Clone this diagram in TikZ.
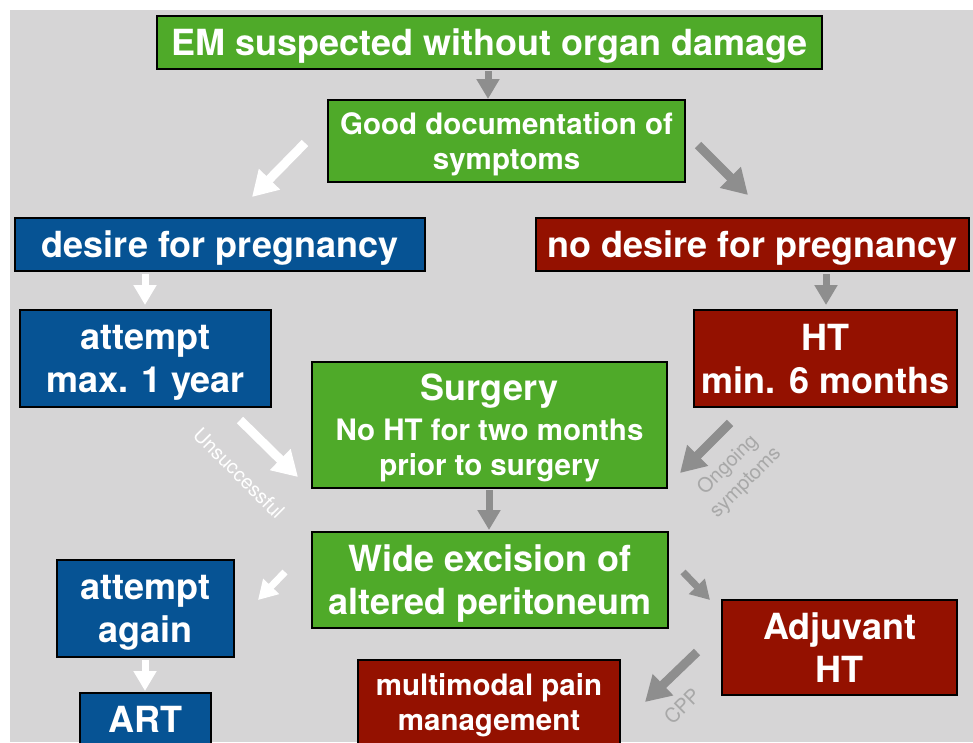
\documentclass[tikz,border=0pt]{standalone}
\usepackage{fontspec}
\setmainfont{TeX Gyre Heros}
\usepackage{xcolor}
\definecolor{emgreen}{RGB}{79,170,41}
\definecolor{emblue}{RGB}{6,83,148}
\definecolor{emred}{RGB}{148,17,0}
\definecolor{bggray}{RGB}{214,213,214}
\definecolor{arrowgray}{RGB}{142,142,142}
\definecolor{labelgray}{RGB}{168,168,168}
\usepackage{tikz}
\usetikzlibrary{arrows.meta}
\newcommand{\bigtext}{\fontsize{36}{43}\selectfont\bfseries}
\newcommand{\midtext}{\fontsize{29.5}{35}\selectfont\bfseries}
\newcommand{\smalltext}{\fontsize{20}{25}\selectfont}
\tikzset{
    common/.style={draw=black, line width=1.3pt, rectangle, inner sep=0pt, text depth=0pt, align=center, text=white, font=\bigtext},
    greenbox/.style={common, fill=emgreen},
    bluebox/.style={common, fill=emblue},
    redbox/.style={common, fill=emred},
    diagarrow/.style={line width=9pt, -{Triangle[width=28pt, length=25pt]}},
    downarrow/.style={line width=7pt, -{Triangle[width=22pt, length=20pt]}},
    shortarrow/.style={line width=7pt, -{Triangle[width=21pt, length=19pt]}},
    whiteway/.style={draw=white},
    grayway/.style={draw=arrowgray},
    note/.style={font=\smalltext, align=center, inner sep=0pt}
}

\begin{document}
\begin{tikzpicture}[x=1pt, y=-1pt]
      \useasboundingbox (0,0) rectangle (973,742);
      \clip (0,0) rectangle (973,742);
      \fill[bggray] (10,10) rectangle (973,742);

      \node[greenbox, minimum width=665pt, minimum height=53pt] (em-suspected) at (489.5,42.5) {EM suspected without organ damage};
      \node[greenbox, minimum width=357pt, minimum height=82pt, font=\midtext] (good-documentation) at (506.5,141) {Good documentation of\\symptoms};

      \node[bluebox, minimum width=410pt, minimum height=53pt] (desire) at (220,244.5) {desire for pregnancy};
      \node[redbox, minimum width=433pt, minimum height=53pt] (no-desire) at (752.5,244.5) {no desire for pregnancy};

      \node[bluebox, minimum width=251pt, minimum height=97pt] (attempt-year) at (145.5,358.5) {attempt\\max. 1 year};
      \node[redbox, minimum width=263pt, minimum height=97pt] (ht-months) at (825.5,358.5) {HT\\min. 6 months};

      \node[greenbox, minimum width=355pt, minimum height=126pt, font=\midtext] (surgery) at (489.5,425) {{\bigtext Surgery}\\[5pt]No HT for two months\\prior to surgery};
      \node[greenbox, minimum width=356pt, minimum height=96pt] (wide-excision) at (490,580) {Wide excision of\\altered peritoneum};

      \node[bluebox, minimum width=177pt, minimum height=97pt] (attempt-again) at (145.5,608.5) {attempt\\again};
      \node[redbox, minimum width=235pt, minimum height=95pt] (adjuvant-ht) at (839.5,647.5) {Adjuvant\\HT};
      \node[bluebox, minimum width=131pt, minimum height=52pt] (art) at (145.5,719) {ART};
      \node[redbox, minimum width=262pt, minimum height=84pt, font=\midtext] (pain-management) at (489,702) {multimodal pain\\management};

      \coordinate (em-out) at (488,71);
      \coordinate (good-in) at (488,99);
      \coordinate (good-out-left) at (305,143);
      \coordinate (desire-in) at (252,197);
      \coordinate (good-out-right) at (698,145);
      \coordinate (no-desire-in) at (748,195);
      \coordinate (desire-out) at (145,274);
      \coordinate (attempt-year-in) at (145,305);
      \coordinate (no-desire-out) at (826,274);
      \coordinate (ht-months-in) at (826,305);
      \coordinate (attempt-year-out) at (240,420);
      \coordinate (surgery-in-left) at (298,477);
      \coordinate (ht-months-out) at (730,423);
      \coordinate (surgery-in-right) at (680,473);
      \coordinate (surgery-out) at (489,490);
      \coordinate (wide-in) at (489,530);
      \coordinate (wide-out-left) at (285,572);
      \coordinate (attempt-again-in) at (258,600);
      \coordinate (wide-out-right) at (683,572);
      \coordinate (adjuvant-in) at (710,600);
      \coordinate (attempt-again-out) at (145,660);
      \coordinate (art-in) at (145,691);
      \coordinate (adjuvant-out) at (697,652);
      \coordinate (pain-in) at (645,702);

      \draw[downarrow, grayway] (em-out) -- (good-in);
      \draw[diagarrow, whiteway] (good-out-left) -- (desire-in);
      \draw[diagarrow, grayway] (good-out-right) -- (no-desire-in);
      \draw[downarrow, whiteway] (desire-out) -- (attempt-year-in);
      \draw[downarrow, grayway] (no-desire-out) -- (ht-months-in);
      \draw[diagarrow, whiteway] (attempt-year-out) -- (surgery-in-left);
      \draw[diagarrow, grayway] (ht-months-out) -- (surgery-in-right);
      \draw[downarrow, grayway] (surgery-out) -- (wide-in);
      \draw[shortarrow, whiteway] (wide-out-left) -- (attempt-again-in);
      \draw[shortarrow, grayway] (wide-out-right) -- (adjuvant-in);
      \draw[downarrow, whiteway] (attempt-again-out) -- (art-in);
      \draw[diagarrow, grayway] (adjuvant-out) -- (pain-in);

      \node[note, text=white, rotate=-45] (unsuccessful) at (239,473) {Unsuccessful};
      \node[note, text=labelgray, rotate=45] (ongoing) at (737,474) {Ongoing\\symptoms};
      \node[note, text=labelgray, rotate=45] (cpp) at (682,706) {CPP};
\end{tikzpicture}
\end{document}
